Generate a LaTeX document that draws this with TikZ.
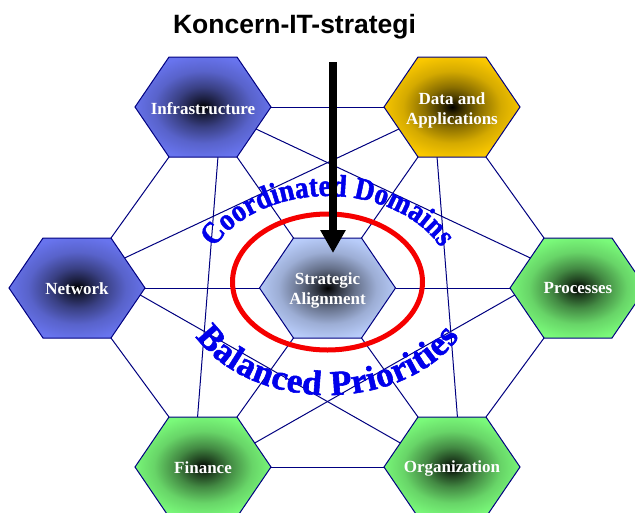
\documentclass[tikz,border=0pt]{standalone}
\usepackage{fontspec}
\setmainfont{Liberation Serif}
\setsansfont{Liberation Sans}
\newfontfamily\wafam[FakeStretch=0.88, FakeBold=1.6]{Liberation Serif Bold}
\newfontfamily\wbfam[FakeBold=1.6]{Liberation Serif Bold}
\usetikzlibrary{calc,arrows.meta,decorations.text}
\definecolor{navyline}{RGB}{0,0,128}
\definecolor{hexblue}{RGB}{104,116,238}
\definecolor{hexgold}{RGB}{250,200,0}
\definecolor{hexgreen}{RGB}{122,250,122}
\definecolor{hexlight}{RGB}{184,204,250}
\definecolor{wablue}{RGB}{0,0,235}
\definecolor{ringred}{RGB}{245,0,0}
\colorlet{hexc}{black}
\pgfdeclareradialshading[hexc]{hexshade}{\pgfpoint{0bp}{0bp}}{color(0bp)=(black); color(4bp)=(black!75!hexc); color(10bp)=(black!45!hexc); color(18bp)=(black!15!hexc); color(26bp)=(hexc); color(50bp)=(hexc)}
\pgfdeclarelayer{bg}
\pgfsetlayers{bg,main}
\newcommand\wafont{\wafam\fontsize{31}{31}\selectfont\color{wablue}}
\newcommand\wbfont{\wbfam\fontsize{35}{35}\selectfont\color{wablue}}
\newcommand\hexcell[6]{%
  \begin{scope}[shift={(#2,#3)}]
    \colorlet{hexc}{#4}
    \shadedraw[shading=hexshade, draw=navyline, line width=1pt]
      (68,0) -- (34,-50) -- (-34,-50) -- (-68,0) -- (-34,50) -- (34,50) -- cycle;
    \coordinate (#1-e) at (68,0);
    \coordinate (#1-ne) at (34,-50);
    \coordinate (#1-nw) at (-34,-50);
    \coordinate (#1-w) at (-68,0);
    \coordinate (#1-sw) at (-34,50);
    \coordinate (#1-se) at (34,50);
    \node[hexlabel] (#1) at (0,#6) {#5};
  \end{scope}}
\tikzset{
  hexlabel/.style={text=white, font=\fontsize{17}{20}\selectfont\bfseries, align=center, inner sep=0pt},
  conn/.style={draw=navyline, line width=1pt},
}
\begin{document}
\begin{tikzpicture}[x=1pt, y=-1pt]
\useasboundingbox (0,0) rectangle (635,512);
\begin{pgfonlayer}{bg}
  \fill[white] (0,0) rectangle (635,512);
\end{pgfonlayer}

\hexcell{infra}{203}{107}{hexblue}{Infrastructure}{1.5}
\hexcell{data}{452}{107}{hexgold}{Data and\\Applications}{3}
\hexcell{net}{77}{288}{hexblue}{Network}{0.5}
\hexcell{proc}{578}{288}{hexgreen}{Processes}{0.5}
\hexcell{fin}{203}{467}{hexgreen}{Finance}{1}
\hexcell{org}{452}{467}{hexgreen}{Organization}{1}
\hexcell{strat}{327.5}{288}{hexlight}{Strategic\\Alignment}{2}

\begin{pgfonlayer}{bg}
  % outer ring
  \draw[conn] (infra-e) -- (data-w);
  \draw[conn] (data-se) -- (proc-nw);
  \draw[conn] (proc-sw) -- (org-ne);
  \draw[conn] (org-w) -- (fin-e);
  \draw[conn] (fin-nw) -- (net-se);
  \draw[conn] (net-ne) -- (infra-sw);
  % spokes
  \draw[conn] (strat-nw) -- (infra-se);
  \draw[conn] (strat-ne) -- (data-sw);
  \draw[conn] (strat-e) -- (proc-w);
  \draw[conn] (strat-w) -- (net-e);
  \draw[conn] (strat-sw) -- (fin-ne);
  \draw[conn] (strat-se) -- (org-nw);
  % chords
  \draw[conn] ($(infra-sw)!0.72!(infra-se)$) -- ($(fin-nw)!0.42!(fin-ne)$);
  \draw[conn] ($(data-se)!0.72!(data-sw)$) -- ($(org-ne)!0.42!(org-nw)$);
  \draw[conn] ($(infra-se)!0.56!(infra-e)$) -- ($(proc-w)!0.6!(proc-nw)$);
  \draw[conn] ($(data-sw)!0.56!(data-w)$) -- ($(net-e)!0.6!(net-ne)$);
  \draw[conn] ($(net-e)!0.14!(net-se)$) -- ($(org-w)!0.48!(org-nw)$);
  \draw[conn] ($(proc-w)!0.14!(proc-sw)$) -- ($(fin-e)!0.48!(fin-ne)$);
\end{pgfonlayer}

\coordinate (ringc) at (327.5,282);
\draw[ringred, line width=5pt] (ringc) ellipse [x radius=95, y radius=68];

\coordinate (arcc) at (327.5,288);
\path[decorate, decoration={text along path, text align={fit to path},
  text={|\wafont|Coordinated Domains}}]
  ($(arcc)+(-154:126 and 92)$) arc[start angle=-154, end angle=-26, x radius=126, y radius=92];
\path[decorate, decoration={text along path, text align={fit to path},
  text={|\wbfont|Balanced Priorities}}]
  ($(arcc)+(153:148 and 107)$) arc[start angle=153, end angle=27, x radius=148, y radius=107];

\node[font=\sffamily\bfseries\fontsize{26.5}{30}\selectfont, anchor=base, inner sep=0pt] (title) at (294.5,33) {Koncern-IT-strategi};

\coordinate (arrtop) at (333,62);
\coordinate (arrtip) at (333,253);
\draw[line width=8pt, -{Triangle[length=23pt, width=24pt]}] (arrtop) -- (arrtip);
\end{tikzpicture}
\end{document}
